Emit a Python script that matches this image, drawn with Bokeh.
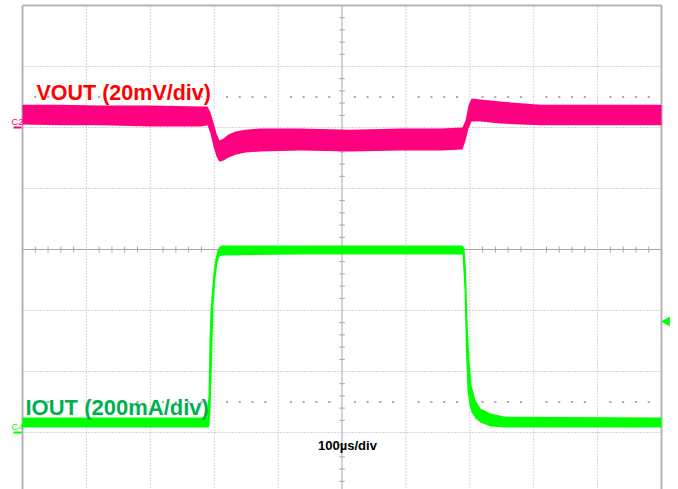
from bokeh.plotting import figure
from bokeh.models import Range1d
from bokeh.core.properties import value
from bokeh.embed import file_html
from bokeh.resources import INLINE

# --- Scope settings -------------------------------------------------------
TIME_PER_DIV = 100.0      # µs/div
VOUT_PER_DIV = 20.0       # mV/div
IOUT_PER_DIV = 200.0      # mA/div
C2_OFFSET_DIV = 2.0       # channel 2 ground marker, divisions above centre
C4_OFFSET_DIV = -3.0      # channel 4 ground marker, divisions below centre
TRIGGER_MA = 364.0        # IOUT trigger level

# --- VOUT trace envelope (time in µs, band edges in mV from C2 marker) -----
vout_t = [0, 59.5, 122, 200, 278.6, 289.5, 294.2, 298.9, 303.6, 308.3,
          314.6, 322.4, 333.3, 349, 372.5, 435, 513, 591.5, 654, 688.6,
          693.3, 698, 702.7, 716.7, 748, 810.6, 904.5, 1000]
vout_hi = [7.5, 7.5, 7.2, 7.2, 6.9, 6.9, 4.9, 1.6, -2.0, -4.3,
           -3.6, -2.3, -1.3, -0.7, -0.3, -0.3, -0.7, -0.3, -0.3, 0.0,
           2.3, 7.2, 9.5, 9.2, 8.5, 7.5, 7.5, 7.5]
vout_lo = [1.0, 0.7, 0.7, 0.3, 0.3, 0.7, -2.0, -6.2, -9.5, -11.2,
           -10.8, -9.8, -8.9, -8.2, -7.9, -7.5, -7.9, -7.5, -7.5, -7.2,
           -4.3, -0.3, 2.0, 2.0, 1.3, 0.7, 0.7, 0.7]

# --- IOUT trace envelope (time in µs, band edges in mA) -------------------
iout_t = [0, 122, 288, 291.1, 292.6, 294.2, 296.6, 298.9, 302, 305.2,
          308.3, 313, 435, 688.6, 691.7, 694, 696.4, 699.5, 702.7, 709,
          716.7, 732.4, 755.9, 1000]
iout_hi = [49, 49, 49, 121, 302, 400, 466, 525, 570, 597,
           610, 613, 613, 613, 603, 531, 367, 236, 154, 105,
           79, 62, 52, 49]
iout_lo = [16, 16, 16, 16, 23, 72, 236, 416, 505, 557,
           577, 580, 584, 584, 466, 269, 138, 89, 66, 46,
           33, 20, 16, 16]

# Pixel geometry of the graticule inside the 678x489 canvas
W, H = 678, 489
LEFT_PX, DIV_X_PX = 22, 63.9
CENTER_Y_PX, DIV_Y_PX = 249, 61

x_min = -LEFT_PX / DIV_X_PX * TIME_PER_DIV
x_max = (W - LEFT_PX) / DIV_X_PX * TIME_PER_DIV
y_min = (CENTER_Y_PX - H) / DIV_Y_PX
y_max = CENTER_Y_PX / DIV_Y_PX

p = figure(width=W, height=H, output_backend="svg", toolbar_location=None,
           x_range=Range1d(x_min, x_max), y_range=Range1d(y_min, y_max),
           min_border=0, min_border_left=0, min_border_right=0,
           min_border_top=0, min_border_bottom=0)
p.axis.visible = False
p.grid.visible = False
p.outline_line_color = None
p.background_fill_color = "white"
p.border_fill_color = "white"

GRID = "#A8A8A8"
T_END = 10 * TIME_PER_DIV
px_t = TIME_PER_DIV / DIV_X_PX


def y_of_px(py):
    """Screen row (pixels from top) to vertical divisions."""
    return (CENTER_Y_PX - py) / DIV_Y_PX


# Dotted division lines
for k in range(1, 10):
    if k == 5:
        continue
    p.line([k * TIME_PER_DIV] * 2, [-4, 4], line_color=GRID,
           line_width=1, line_dash="1 2")
for k in (-3, -2, -1, 1, 2, 3):
    p.line([0, T_END], [k, k], line_color=GRID, line_width=1, line_dash="1 2")

# Centre cross with minor ticks
p.line([0, T_END], [0, 0], line_color=GRID, line_width=1)
p.line([5 * TIME_PER_DIV] * 2, [-4, 4], line_color=GRID, line_width=1)
sub_x = [i * TIME_PER_DIV / 5 for i in range(1, 50) if i % 5]
sub_y = [i / 5 for i in range(-20, 21) if i % 5]
p.segment(x0=sub_x, y0=[-0.05] * len(sub_x), x1=sub_x, y1=[0.05] * len(sub_x),
          line_color=GRID, line_width=1)
p.segment(x0=[500 - 4.5] * len(sub_y), y0=sub_y, x1=[500 + 4.5] * len(sub_y),
          y1=sub_y, line_color=GRID, line_width=1)

# Rise-time reference dot rows at +/-2.5 div
p.scatter(sub_x * 2, [2.5] * len(sub_x) + [-2.5] * len(sub_x), marker="square",
          size=2, color=GRID, line_width=0)

# Graticule border
p.line([0, 0], [-4.2, 4], line_color="#B4B4B4", line_width=2)
p.line([T_END, T_END], [-4.2, 4], line_color="#B4B4B4", line_width=2)
p.line([0, T_END], [4, 4], line_color="#B4B4B4", line_width=2)

# Waveforms (converted to screen divisions)
MAGENTA = "#FF0080"
GREEN = "#00FF00"
p.varea(x=vout_t,
        y1=[C2_OFFSET_DIV + v / VOUT_PER_DIV for v in vout_lo],
        y2=[C2_OFFSET_DIV + v / VOUT_PER_DIV for v in vout_hi],
        fill_color=MAGENTA)
p.varea(x=iout_t,
        y1=[C4_OFFSET_DIV + v / IOUT_PER_DIV for v in iout_lo],
        y2=[C4_OFFSET_DIV + v / IOUT_PER_DIV for v in iout_hi],
        fill_color=GREEN)

# Channel ground markers and labels
p.segment(x0=[-9 * px_t, -9 * px_t], y0=[C2_OFFSET_DIV, C4_OFFSET_DIV],
          x1=[-1 * px_t, -1 * px_t], y1=[C2_OFFSET_DIV, C4_OFFSET_DIV],
          line_color=[MAGENTA, GREEN], line_width=2)
p.text(x=[-11 * px_t], y=[y_of_px(121)], text=["C2"],
       text_font=value("Liberation Sans"), text_font_size="9.5px",
       text_color=MAGENTA, text_baseline="alphabetic", text_align="left")
p.text(x=[-11 * px_t], y=[y_of_px(426)], text=["C4"],
       text_font=value("Liberation Sans"), text_font_size="9.5px",
       text_color=GREEN, text_baseline="alphabetic", text_align="left")

# Trigger level arrow on the right edge
p.scatter([T_END + 5.5 * px_t], [C4_OFFSET_DIV + TRIGGER_MA / IOUT_PER_DIV],
          marker="triangle", angle=1.5708, size=10, color=GREEN, line_width=0)

# Channel annotations
p.text(x=[14 * px_t], y=[y_of_px(92)],
       text=["VOUT (20mV/div)"], text_font=value("Liberation Sans"),
       text_font_style="bold", text_font_size="21.5px", text_color="#FF0000",
       text_baseline="alphabetic", text_align="left")
p.text(x=[3 * px_t], y=[y_of_px(407)],
       text=["IOUT (200mA/div)"], text_font=value("Liberation Sans"),
       text_font_style="bold", text_font_size="22px", text_color="#00B050",
       text_baseline="alphabetic", text_align="left")
p.text(x=[325 * px_t], y=[y_of_px(445)],
       text=["100µs/div"], text_font=value("Liberation Sans"),
       text_font_style="bold", text_font_size="13px", text_color="black",
       text_baseline="alphabetic", text_align="center")

open("out.html", "w").write(file_html(p, INLINE))
